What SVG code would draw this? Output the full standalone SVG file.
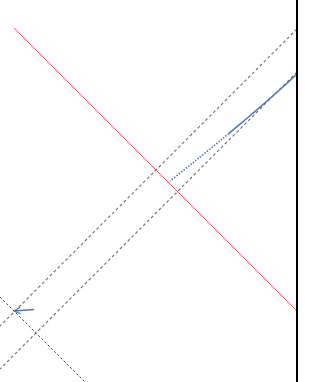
<svg xmlns="http://www.w3.org/2000/svg" width="311" height="382" viewBox="0 0 311 382">
<defs>
<style>
.dash{stroke:#6e6e6e;stroke-width:1.1;stroke-dasharray:3,2.5;fill:none}
.dash2{stroke:#505050;stroke-width:1;stroke-dasharray:2.5,2;fill:none}
.red{stroke:#ff5b5b;stroke-width:1;fill:none}
.blue{stroke:#4f76b8;stroke-width:1.6;fill:none}
</style>
<marker id="ah" viewBox="0 0 10 10" refX="9" refY="5" markerWidth="5" markerHeight="5" orient="auto-start-reverse">
<path d="M1,1 L9,5 L1,9" fill="none" stroke="#4f76b8" stroke-width="1.5"/>
</marker>
</defs>
<rect width="311" height="382" fill="#fff"/>
<g id="connectors">
<line class="red" x1="14" y1="28" x2="297" y2="311"/>
<line class="dash" x1="297" y1="29" x2="0" y2="326"/>
<line class="dash" x1="297" y1="72" x2="0" y2="369"/>
<line class="dash2" x1="0" y1="297" x2="86" y2="383"/>
<path class="blue" d="M297,74 Q268.8,100.4 228.7,133.6"/>
<path class="blue" stroke-dasharray="1.5,1.5" d="M228.7,133.6 Q202,155.8 170,181"/>
<line class="blue" stroke-width="2" x1="34" y1="309.5" x2="14" y2="311" marker-end="url(#ah)"/>
</g>
<g id="wall">
<line x1="297" y1="0" x2="297" y2="382" stroke="#000" stroke-width="2"/>
</g>
</svg>
